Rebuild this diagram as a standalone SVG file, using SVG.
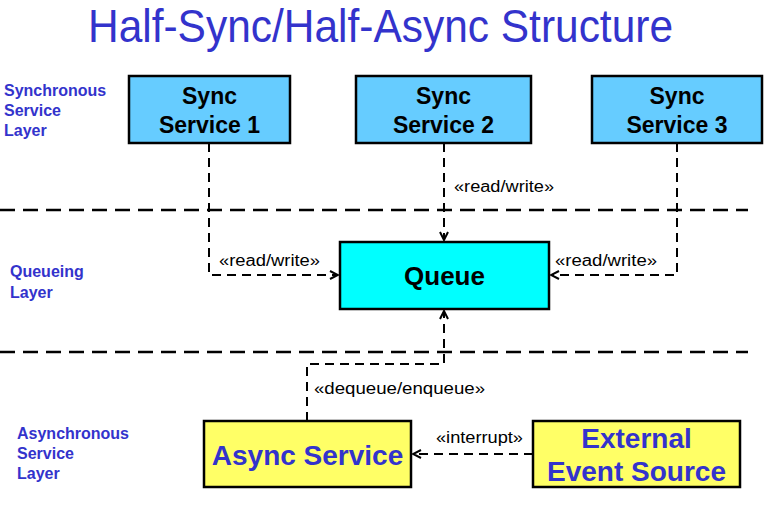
<svg xmlns="http://www.w3.org/2000/svg" width="771" height="511" viewBox="0 0 771 511">
<style>
  .title{font-family:"Liberation Sans",Arial,sans-serif;font-size:46px;fill:#3333cc}
  .layer{font-family:"Liberation Sans",Arial,sans-serif;font-size:16px;font-weight:bold;fill:#3333cc}
  .sync rect{fill:#66ccff;stroke:#000;stroke-width:2.5}
  .queue rect{fill:#00ffff;stroke:#000;stroke-width:2.5}
  .async rect{fill:#ffff66;stroke:#000;stroke-width:2.5}
  .bt{font-family:"Liberation Sans",Arial,sans-serif;font-weight:bold;text-anchor:middle}
  .blk{fill:#000}
  .blu{fill:#3333cc}
  .sep{stroke:#000;stroke-width:2.5;stroke-dasharray:15,8;fill:none}
  .con{stroke:#000;stroke-width:2;stroke-dasharray:9,6;fill:none}
  .lbl{font-family:"Liberation Sans",Arial,sans-serif;font-size:16px;fill:#000}
</style>
<defs>
  <marker id="arr" viewBox="0 0 10 10" refX="9" refY="5" markerWidth="10" markerHeight="10" markerUnits="userSpaceOnUse" orient="auto">
    <path d="M1,1 L9,5 L1,9" fill="none" stroke="#000" stroke-width="2"/>
  </marker>
</defs>
<rect width="771" height="511" fill="#fff"/>
<text class="title" x="88" y="42" textLength="585" lengthAdjust="spacingAndGlyphs">Half-Sync/Half-Async Structure</text>

<g id="layer-labels">
  <text class="layer" x="4" y="96">Synchronous</text>
  <text class="layer" x="4" y="116">Service</text>
  <text class="layer" x="4" y="136">Layer</text>
  <text class="layer" x="10" y="277">Queueing</text>
  <text class="layer" x="10" y="298">Layer</text>
  <text class="layer" x="17" y="439">Asynchronous</text>
  <text class="layer" x="17" y="459">Service</text>
  <text class="layer" x="17" y="479">Layer</text>
</g>

<g id="separators">
  <line class="sep" x1="0" y1="210" x2="748" y2="210"/>
  <line class="sep" x1="0" y1="352" x2="748" y2="352"/>
</g>

<g id="connectors">
  <path class="con" d="M209,143 V275 H338" marker-end="url(#arr)"/>
  <path class="con" d="M444,143 V240" marker-end="url(#arr)"/>
  <path class="con" d="M677,143 V275 H551" marker-end="url(#arr)"/>
  <path class="con" d="M307,421 V364 H444 V311" marker-end="url(#arr)"/>
  <path class="con" d="M533,454 H413" marker-end="url(#arr)"/>
  <text class="lbl" x="219" y="266" textLength="101" lengthAdjust="spacingAndGlyphs">«read/write»</text>
  <text class="lbl" x="454" y="192" textLength="100" lengthAdjust="spacingAndGlyphs">«read/write»</text>
  <text class="lbl" x="555" y="266" textLength="102" lengthAdjust="spacingAndGlyphs">«read/write»</text>
  <text class="lbl" x="314" y="394" textLength="171" lengthAdjust="spacingAndGlyphs">«dequeue/enqueue»</text>
  <text class="lbl" x="436" y="443" textLength="87" lengthAdjust="spacingAndGlyphs">«interrupt»</text>
</g>

<g id="sync1" class="sync">
  <rect x="129" y="76" width="161" height="67"/>
  <text class="bt blk" x="209.5" y="104" font-size="23">Sync</text>
  <text class="bt blk" x="209.5" y="133" font-size="23">Service 1</text>
</g>
<g id="sync2" class="sync">
  <rect x="356" y="76" width="175" height="67"/>
  <text class="bt blk" x="443.5" y="104" font-size="23">Sync</text>
  <text class="bt blk" x="443.5" y="133" font-size="23">Service 2</text>
</g>
<g id="sync3" class="sync">
  <rect x="592" y="76" width="170" height="67"/>
  <text class="bt blk" x="677" y="104" font-size="23">Sync</text>
  <text class="bt blk" x="677" y="133" font-size="23">Service 3</text>
</g>
<g id="queue" class="queue">
  <rect x="340" y="242" width="209" height="67"/>
  <text class="bt blk" x="444.5" y="285" font-size="26">Queue</text>
</g>
<g id="async-service" class="async">
  <rect x="204" y="421" width="207" height="66"/>
  <text class="bt blu" x="307.5" y="465" font-size="28">Async Service</text>
</g>
<g id="external-event-source" class="async">
  <rect x="533" y="421" width="207" height="66"/>
  <text class="bt blu" x="636.5" y="448" font-size="28">External</text>
  <text class="bt blu" x="636.5" y="481" font-size="28">Event Source</text>
</g>
</svg>
